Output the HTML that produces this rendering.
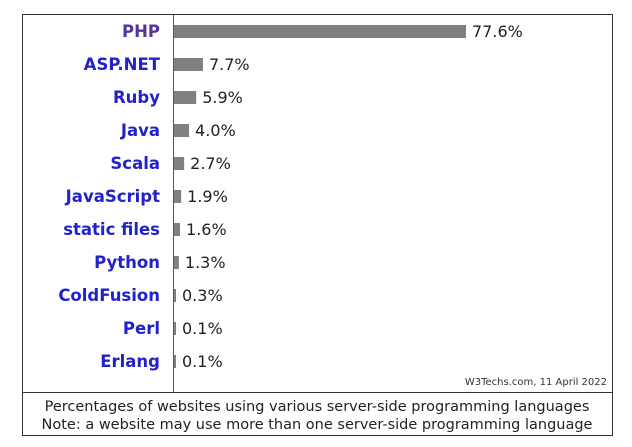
<!DOCTYPE html>
<html><head><meta charset="utf-8"><style>
body{margin:0;background:#fff;}
svg{display:block;font-family:"DejaVu Sans","Liberation Sans",sans-serif;}
</style></head><body>
<svg id="chart" width="632" height="447">
<rect x="22.5" y="14.5" width="590" height="421" fill="#fff" stroke="#333" stroke-width="1"/>
<line x1="22" y1="392.5" x2="613" y2="392.5" stroke="#333"/>
<line x1="173.5" y1="15" x2="173.5" y2="392" stroke="#555"/>
<g id="bars"></g>
<text x="607" y="385" text-anchor="end" font-size="10" fill="#333">W3Techs.com, 11 April 2022</text>
<text x="317" y="411" text-anchor="middle" font-size="14.5" fill="#222">Percentages of websites using various server-side programming languages</text>
<text x="317" y="429" text-anchor="middle" font-size="14.5" fill="#222">Note: a website may use more than one server-side programming language</text>
</svg>
<script>
const categories=["PHP","ASP.NET","Ruby","Java","Scala","JavaScript","static files","Python","ColdFusion","Perl","Erlang"];
const values=[77.6,7.7,5.9,4.0,2.7,1.9,1.6,1.3,0.3,0.1,0.1];
const valueLabels=["77.6%","7.7%","5.9%","4.0%","2.7%","1.9%","1.6%","1.3%","0.3%","0.1%","0.1%"];
const ns="http://www.w3.org/2000/svg";
const x0=174, scale=292/77.6;
function xPos(v){return x0+Math.max(2,v*scale);}
function yPos(i){return 31+i*33;}
const g=document.getElementById('bars');
categories.forEach((c,i)=>{
  const y=yPos(i);
  const lab=document.createElementNS(ns,'text');
  
  
  lab.setAttribute('x',160);lab.setAttribute('y',y+6);
  lab.setAttribute('text-anchor','end');lab.setAttribute('font-size','16.5');lab.setAttribute('font-weight','bold');
  lab.setAttribute('fill',i===0?'#553399':'#2222cc');
  lab.textContent=c;g.appendChild(lab);
  const r=document.createElementNS(ns,'rect');
  
  
  r.setAttribute('x',x0);r.setAttribute('y',y-6);
  r.setAttribute('width',xPos(values[i])-x0);r.setAttribute('height',13);
  r.setAttribute('fill','#808080');g.appendChild(r);
  const t=document.createElementNS(ns,'text');
  
  
  t.setAttribute('x',xPos(values[i])+6);t.setAttribute('y',y+6);
  t.setAttribute('font-size','16');t.setAttribute('fill','#222');
  t.textContent=valueLabels[i];g.appendChild(t);
});
</script>
</body></html>
